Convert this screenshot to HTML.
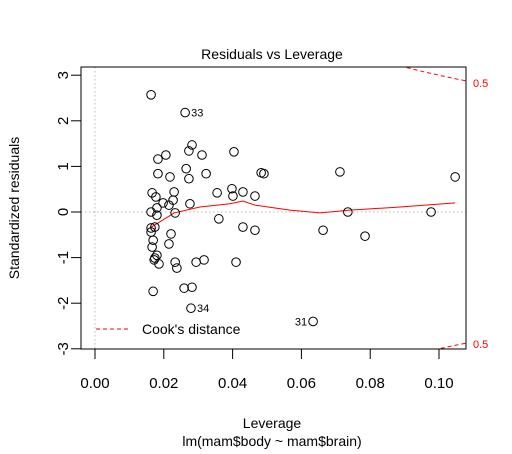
<!DOCTYPE html>
<html><head><meta charset="utf-8"><style>
html,body{margin:0;padding:0;background:#fff;width:512px;height:454px;overflow:hidden}
svg{display:block;font-family:"Liberation Sans",Arial,sans-serif}
</style></head><body>
<svg id="chart" width="512" height="454" viewBox="0 0 512 454">
<g id="plot"></g>
</svg>
<script>
const leverage=[0.0163,0.0262,0.0282,0.0273,0.0206,0.0183,0.0311,0.0404,0.0265,0.0183,0.0218,0.0273,0.0323,0.0166,0.0177,0.0230,0.0227,0.0198,0.0215,0.0276,0.0355,0.0398,0.0401,0.0430,0.0180,0.0163,0.0180,0.0233,0.0360,0.0430,0.0163,0.0174,0.0163,0.0221,0.0169,0.0215,0.0166,0.0180,0.0174,0.0172,0.0186,0.0233,0.0238,0.0294,0.0317,0.0410,0.0169,0.0259,0.0282,0.0279,0.0483,0.0491,0.0465,0.0712,0.1047,0.0735,0.0977,0.0465,0.0663,0.0785,0.0634];
const stdResid=[2.57,2.18,1.47,1.34,1.25,1.16,1.25,1.32,0.95,0.84,0.77,0.73,0.84,0.42,0.33,0.44,0.26,0.20,0.15,0.18,0.42,0.51,0.35,0.44,0.09,0.00,-0.07,-0.02,-0.15,-0.33,-0.35,-0.33,-0.44,-0.48,-0.62,-0.70,-0.77,-0.95,-1.01,-1.05,-1.14,-1.10,-1.23,-1.10,-1.05,-1.10,-1.74,-1.67,-1.65,-2.11,0.86,0.84,0.35,0.88,0.77,0.00,0.00,-0.40,-0.40,-0.53,-2.40];
const pointLabels=[[1,"33"],[49,"34"],[60,"31"]];
const smoothX=[0.016,0.023,0.0305,0.0392,0.043,0.0465,0.0567,0.0654,0.0741,0.0887,0.1047];
const smoothY=[-0.35,-0.02,0.11,0.18,0.24,0.15,0.04,-0.02,0.04,0.11,0.20];
const xTicks=["0.00","0.02","0.04","0.06","0.08","0.10"];
const yTicks=["-3","-2","-1","0","1","2","3"];
const cookLevel=0.5, nParams=2;

const L=81,R=466,T=67,B=349;
const sx=v=>95+v*3440;
const sy=v=>212-v*45.6;
const g=document.getElementById('plot');
const NS='http://www.w3.org/2000/svg';
function mk(tag,attrs,txt){const e=document.createElementNS(NS,tag);for(const k in attrs)e.setAttribute(k,attrs[k]);if(txt!==undefined)e.textContent=txt;g.appendChild(e);return e;}

let e;
e=mk('line',{x1:sx(0),x2:sx(0),y1:T,y2:B,stroke:'#bbb','stroke-dasharray':'1.5,2.5'});


e=mk('line',{x1:L,x2:R,y1:sy(0),y2:sy(0),stroke:'#bbb','stroke-dasharray':'1.5,2.5'});



function cookPath(sign){let d='';for(let h=0.075;h<=0.1131;h+=0.0005){const r=sign*Math.sqrt(cookLevel*nParams*(1-h)/h);d+=(d?'L':'M')+sx(h).toFixed(1)+','+sy(r).toFixed(1);}return d;}
const cp=document.createElementNS(NS,'clipPath');cp.setAttribute('id','clip');const cr=document.createElementNS(NS,'rect');cr.setAttribute('x',L);cr.setAttribute('y',T);cr.setAttribute('width',R-L);cr.setAttribute('height',B-T);cp.appendChild(cr);g.appendChild(cp);
[1,-1].forEach(s=>{e=mk('path',{d:cookPath(s),fill:'none',stroke:'#f00','stroke-dasharray':'4,3','clip-path':'url(#clip)'});

});

e=mk('polyline',{points:smoothX.map((x,i)=>sx(x)+','+sy(smoothY[i])).join(' '),fill:'none',stroke:'#f00','stroke-width':1});



leverage.forEach((x,i)=>{e=mk('circle',{cx:sx(x),cy:sy(stdResid[i]),r:4.3,fill:'none',stroke:'#000','stroke-width':1});

});
pointLabels.forEach(([i,t])=>{const left=t==="31";e=mk('text',{x:left?sx(leverage[i])-6:sx(leverage[i])+6,y:sy(stdResid[i])+4,'font-size':11,'text-anchor':left?'end':'start'},t);

});

e=mk('rect',{x:L,y:T,width:R-L,height:B-T,fill:'none',stroke:'#000','stroke-width':1});



xTicks.forEach(t=>{const x=sx(parseFloat(t));mk('line',{x1:x,x2:x,y1:B,y2:B+10,stroke:'#000'});
e=mk('text',{x:x,y:388,'font-size':15,'text-anchor':'middle'},t);

});
yTicks.forEach(t=>{const y=sy(parseFloat(t));mk('line',{x1:L-10,x2:L,y1:y,y2:y,stroke:'#000'});
e=mk('text',{x:0,y:0,'font-size':15,'text-anchor':'middle',transform:`translate(68,${y}) rotate(-90)`},t);

});

e=mk('text',{x:272,y:59,'font-size':14,'text-anchor':'middle'},'Residuals vs Leverage');


e=mk('text',{x:272,y:428,'font-size':14,'text-anchor':'middle'},'Leverage');


e=mk('text',{x:272,y:446,'font-size':14,'text-anchor':'middle'},'lm(mam$body ~ mam$brain)');


e=mk('text',{x:0,y:0,'font-size':14,'text-anchor':'middle',transform:'translate(19,208) rotate(-90)'},'Standardized residuals');



e=mk('line',{x1:96,x2:128,y1:329,y2:329,stroke:'#f00','stroke-dasharray':'4,3'});


e=mk('text',{x:142,y:334,'font-size':14},"Cook's distance");


e=mk('text',{x:473,y:87,'font-size':11,fill:'#f00'},'0.5');


e=mk('text',{x:473,y:348,'font-size':11,fill:'#f00'},'0.5');


</script>
</body></html>
